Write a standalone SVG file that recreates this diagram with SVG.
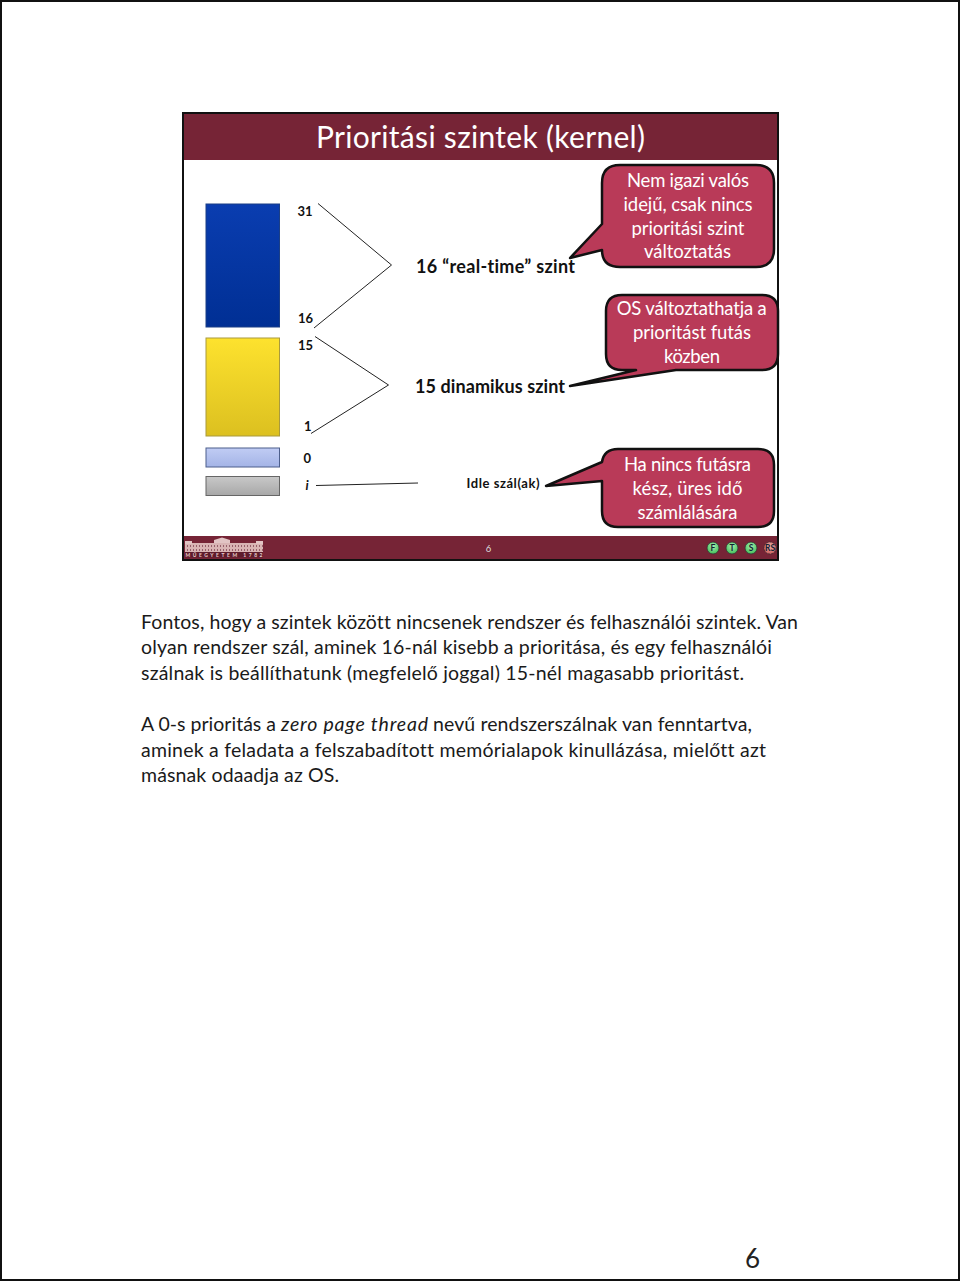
<svg xmlns="http://www.w3.org/2000/svg" width="960" height="1281" viewBox="0 0 960 1281">
<style>
text{font-family:Lato,"Open Sans","Liberation Sans",sans-serif;font-variant-ligatures:none}
.body{font-size:19.5px;fill:#1a1a1a}
.call{font-size:18.5px;fill:#fff;text-anchor:middle}
.lab{font-size:13px;font-weight:700;fill:#111}
.head{font-size:18px;font-weight:700;fill:#111}
.bar{stroke-width:1}
.bub{fill:#b93a58;stroke:#111;stroke-width:2.5;stroke-linejoin:round}
.ln{fill:none;stroke:#222;stroke-width:1}
.ico{stroke:#333;stroke-width:.8}
.icot{font-size:8.500px;font-weight:700;fill:#123;text-anchor:middle}
</style>
<defs>
<linearGradient id="bl" x1="0" y1="0" x2="0" y2="1"><stop offset="0" stop-color="#0a3db0"/><stop offset="1" stop-color="#002f94"/></linearGradient>
<linearGradient id="ye" x1="0" y1="0" x2="0" y2="1"><stop offset="0" stop-color="#fde22e"/><stop offset="1" stop-color="#dcc020"/></linearGradient>
<linearGradient id="lb" x1="0" y1="0" x2="0" y2="1"><stop offset="0" stop-color="#c0ccf4"/><stop offset="1" stop-color="#a4b4e6"/></linearGradient>
<linearGradient id="gr" x1="0" y1="0" x2="0" y2="1"><stop offset="0" stop-color="#c8c8c8"/><stop offset="1" stop-color="#a8a8a8"/></linearGradient>
<radialGradient id="gn" cx=".5" cy=".35" r=".7"><stop offset="0" stop-color="#a8f0b0"/><stop offset="1" stop-color="#38b850"/></radialGradient>
<radialGradient id="rd" cx=".5" cy=".35" r=".7"><stop offset="0" stop-color="#f0b0a8"/><stop offset="1" stop-color="#c85a58"/></radialGradient>
<pattern id="win" width="3" height="4" patternUnits="userSpaceOnUse"><rect width="3" height="4" fill="#d9b4b4"/><rect x="1" y="1" width="1" height="2" fill="#96606a"/></pattern>
</defs>
<rect x="1" y="1" width="958" height="1279" fill="#fff" stroke="#111" stroke-width="2"/>
<g id="slide">
<rect x="183" y="113" width="595" height="447" fill="#fff" stroke="#111" stroke-width="2"/>
<rect x="184" y="114" width="593" height="46" fill="#762436"/>
<rect x="184" y="536" width="593" height="23" fill="#762436"/>
<text x="480.500" y="148" font-size="30" fill="#fff" text-anchor="middle" textLength="329">Prioritási szintek (kernel)</text>
<text x="488.500" y="552" font-size="9.500" fill="#ddd" text-anchor="middle">6</text>
</g>
<g id="footer-logo">
<rect x="185" y="543" width="78" height="9" fill="url(#win)"/>
<rect x="185" y="541" width="7" height="3" fill="#e2c4c4"/>
<rect x="256" y="541" width="7" height="3" fill="#e2c4c4"/>
<path d="M214 543V540L222 537.500L230 540V543Z" fill="#e2c4c4"/>
<rect x="185" y="552" width="78" height="5.500" fill="#5e1c2c"/>
<text x="185.500" y="557" font-size="5" font-weight="700" fill="#e8cccc" textLength="77">MŰEGYETEM 1782</text>
</g>
<g id="footer-icons">
<circle class="ico" cx="713" cy="548" r="6" fill="url(#gn)"/>
<circle class="ico" cx="732" cy="548" r="6" fill="url(#gn)"/>
<circle class="ico" cx="751" cy="548" r="6" fill="url(#gn)"/>
<circle class="ico" cx="770" cy="548" r="6" fill="url(#rd)" stroke-dasharray="2 1"/>
<text class="icot" x="713" y="551">F</text>
<text class="icot" x="732" y="551">T</text>
<text class="icot" x="751" y="551">S</text>
<text class="icot" x="770" y="551" font-size="7">RS</text>
</g>
<g id="bar-blue"><rect class="bar" x="206" y="204" width="73.500" height="123" fill="url(#bl)" stroke="#1b3f86"/></g>
<g id="bar-yellow"><rect class="bar" x="206" y="338" width="73.500" height="98" fill="url(#ye)" stroke="#a99a3c"/></g>
<g id="bar-lightblue"><rect class="bar" x="206" y="448" width="73.500" height="19" fill="url(#lb)" stroke="#4d5f8c"/></g>
<g id="bar-gray"><rect class="bar" x="206" y="476.500" width="73.500" height="19" fill="url(#gr)" stroke="#666"/></g>
<g id="labels">
<text class="lab" x="297.500" y="216">31</text>
<text class="lab" x="298" y="323">16</text>
<text class="lab" x="298" y="350">15</text>
<text class="lab" x="304" y="431">1</text>
<text class="lab" x="303.500" y="463">0</text>
<text class="lab" x="305.500" y="490" font-style="italic">i</text>
<text class="head" x="416" y="273" textLength="159">16 “real-time” szint</text>
<text class="head" x="415" y="393" textLength="150">15 dinamikus szint</text>
<text class="lab" x="466.500" y="488" font-size="14" textLength="73">Idle szál(ak)</text>
</g>
<g id="connectors">
<path class="ln" d="M318 203.500L391.500 265L314 328"/>
<path class="ln" d="M315 336.500L388.500 385L311 433.500"/>
<path class="ln" d="M316 485.500L418 483"/>
</g>
<g id="callout-1">
<path class="bub" d="M620 165H756Q774 165 774 183V249Q774 267 756 267H620Q602 267 602 250L570 258L602 224V183Q602 165 620 165Z"/>
<text class="call" x="688" y="187" textLength="122">Nem igazi valós</text>
<text class="call" x="688" y="211" textLength="129">idejű, csak nincs</text>
<text class="call" x="688" y="235" textLength="113">prioritási szint</text>
<text class="call" x="687.500" y="258" textLength="87">változtatás</text>
</g>
<g id="callout-2">
<path class="bub" d="M622 295H762Q778 295 778 311V354Q778 370 762 370H676L570 386L636 370H622Q606 370 606 354V311Q606 295 622 295Z"/>
<text class="call" x="691.700" y="315" textLength="150">OS változtathatja a</text>
<text class="call" x="692" y="339" textLength="118">prioritást futás</text>
<text class="call" x="692" y="362.500" textLength="56">közben</text>
</g>
<g id="callout-3">
<path class="bub" d="M618 449H758Q774 449 774 465V511Q774 527 758 527H618Q602 527 602 511V481L546 486L602 462Q604 449 618 449Z"/>
<text class="call" x="687.500" y="471" textLength="127">Ha nincs futásra</text>
<text class="call" x="687.500" y="495" textLength="110">kész, üres idő</text>
<text class="call" x="687.500" y="519" textLength="100">számlálására</text>
</g>
<g id="notes">
<text class="body" x="141" y="628.500" textLength="657">Fontos, hogy a szintek között nincsenek rendszer és felhasználói szintek. Van</text>
<text class="body" x="141" y="654" textLength="631">olyan rendszer szál, aminek 16-nál kisebb a prioritása, és egy felhasználói</text>
<text class="body" x="141" y="679.500" textLength="603">szálnak is beállíthatunk (megfelelő joggal) 15-nél magasabb prioritást.</text>
<text class="body" x="141" y="731" textLength="135">A 0-s prioritás a</text>
<text class="body" x="281" y="731" font-style="italic" textLength="147">zero page thread</text>
<text class="body" x="433" y="731" textLength="319">nevű rendszerszálnak van fenntartva,</text>
<text class="body" x="141" y="756.500" textLength="625">aminek a feladata a felszabadított memórialapok kinullázása, mielőtt azt</text>
<text class="body" x="141" y="782" textLength="198">másnak odaadja az OS.</text>
<text x="745" y="1268" font-size="26" fill="#222">6</text>
</g>
</svg>
